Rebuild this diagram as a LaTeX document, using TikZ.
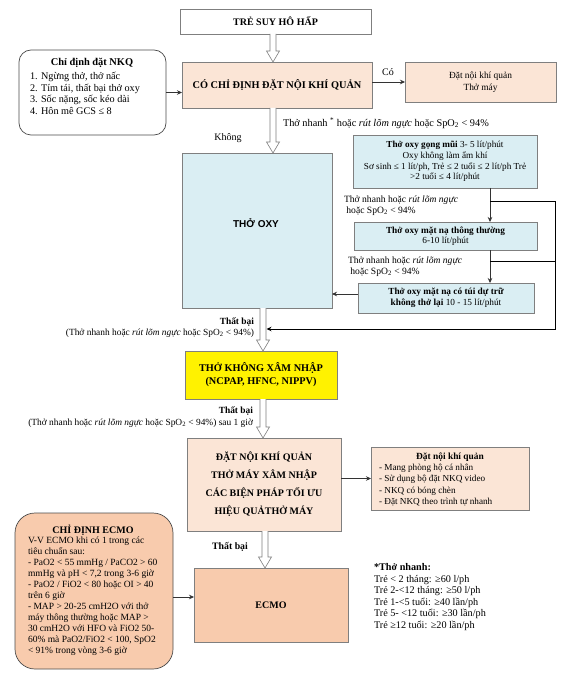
\documentclass[tikz,border=0pt]{standalone}
\usepackage{fontspec}
\setmainfont{Liberation Serif}
\newfontfamily\arialfont{Liberation Sans}
\usetikzlibrary{arrows.meta,calc}
\definecolor{peach}{HTML}{FBE5D6}
\definecolor{peachdark}{HTML}{F8CBAD}
\definecolor{lblue}{HTML}{DAEEF3}
\definecolor{bordergray}{HTML}{7F7F7F}
\newcommand\blockarrow[2]{\draw[blockarr] let \p1=#1, \p2=#2 in (\x1-3pt,\y1) -- (\x1-3pt,\y2+11pt) -- (\x1-6.5pt,\y2+11pt) -- (\x1,\y2) -- (\x1+6.5pt,\y2+11pt) -- (\x1+3pt,\y2+11pt) -- (\x1+3pt,\y1);}
\begin{document}
\begin{tikzpicture}[x=1pt,y=-1pt,
  bx/.style 2 args={draw=bordergray, line width=0.7pt, minimum width=#1, minimum height=#2, inner sep=0pt, outer sep=0pt, align=center},
  txt/.style={inner sep=0pt, outer sep=0pt, font=\fontsize{9.4}{11.5}\selectfont},
  arr/.style={draw=black!80, line width=0.6pt, -{Stealth[length=5pt,width=4.5pt]}},
  branch/.style={draw=black, line width=0.9pt},
  blockarr/.style={draw=bordergray, fill=white, line width=0.6pt, line join=miter},
]
\useasboundingbox (0,0) rectangle (573,676);
\fill[white] (0,0) rectangle (573,676);

% boxes
\node[bx={191pt}{25pt}, font=\bfseries\fontsize{10}{12}\selectfont] (tre) at (275.5,21.5) {TRẺ SUY HÔ HẤP};
\node[bx={190pt}{46pt}, fill=peach, font=\bfseries\fontsize{10.3}{12}\selectfont] (cochi) at (277,85) {CÓ CHỈ ĐỊNH ĐẶT NỘI KHÍ QUẢN};
\node[bx={147pt}{85pt}, rounded corners=12pt, draw=black!70] (nkq) at (92.5,92.5) {};
\node[txt, font=\bfseries\fontsize{10.4}{12}\selectfont] (nkqt) at (92,63) {Chỉ định đặt NKQ};
\node[txt, anchor=west, align=left, font=\fontsize{10.2}{11.7}\selectfont] (nkql) at (30,93.5) {1. Ngừng thở, thở nấc\\2. Tím tái, thất bại thở oxy\\3. Sốc nặng, sốc kéo dài\\4. Hôn mê GCS ≤ 8};
\node[bx={151pt}{40pt}, fill=peach, font=\fontsize{9.4}{12}\selectfont] (datnoi1) at (480.5,82) {Đặt nội khí quản\\Thở máy};

\node[bx={150pt}{155pt}, fill=lblue] (oxy) at (257,230.5) {};
\node[inner sep=0pt, font=\arialfont\bfseries\fontsize{10}{12}\selectfont] (oxyt) at (256,223) {THỞ OXY};

\node[bx={184pt}{53pt}, fill=lblue, font=\fontsize{9.2}{10.7}\selectfont] (gong) at (445,161.5) {\textbf{Thở oxy gọng mũi} 3- 5 lít/phút\\Oxy không làm ẩm khí\\Sơ sinh ≤ 1 lít/ph, Trẻ ≤ 2 tuổi ≤ 2 lít/ph Trẻ\\>2 tuổi ≤ 4 lít/phút};
\node[bx={183pt}{28pt}, fill=lblue, font=\fontsize{9.3}{10.5}\selectfont] (matna) at (445.5,236) {\textbf{Thở oxy mặt nạ thông thường}\\6-10 lít/phút};
\node[bx={176pt}{30pt}, fill=lblue, font=\fontsize{9.3}{11}\selectfont] (tui) at (446,298) {\textbf{Thở oxy mặt nạ có túi dự trữ}\\\textbf{không thở lại} 10 - 15 lít/phút};

\node[bx={152pt}{48pt}, fill=yellow, font=\bfseries\fontsize{10.3}{13}\selectfont] (khong) at (261,375) {THỞ KHÔNG XÂM NHẬP\\(NCPAP, HFNC, NIPPV)};
\node[bx={154pt}{93pt}, fill=peach, font=\bfseries\fontsize{10}{18}\selectfont] (dat2) at (264,484.5) {ĐẶT NỘI KHÍ QUẢN\\THỞ MÁY XÂM NHẬP\\CÁC BIỆN PHÁP TỐI ƯU\\HIỆU QUẢTHỞ MÁY};
\node[bx={158pt}{63pt}, fill=peach] (datnoi2) at (450,478.5) {};
\node[txt, font=\bfseries\fontsize{9.4}{11}\selectfont] (datnoi2t) at (450,457) {Đặt nội khí quản};
\node[txt, anchor=west, align=left, font=\fontsize{9.2}{11.2}\selectfont] (datnoi2l) at (379,485) {- Mang phòng hộ cá nhân\\- Sử dụng bộ đặt NKQ video\\- NKQ có bóng chèn\\- Đặt NKQ theo trình tự nhanh};

\node[bx={154pt}{74pt}, fill=peachdark, font=\bfseries\fontsize{10}{12}\selectfont] (ecmo) at (271,605) {ECMO};
\node[bx={158pt}{156pt}, fill=peachdark, rounded corners=20pt, draw=black!70] (ecmochi) at (94,591) {};
\node[txt, font=\bfseries\fontsize{10}{12}\selectfont] (ecmot) at (93,530) {CHỈ ĐỊNH ECMO};
\node[txt, anchor=west, align=left, font=\fontsize{9.5}{11}\selectfont] (ecmol) at (28,596) {V-V ECMO khi có 1 trong các\\tiêu chuẩn sau:\\- PaO2 < 55 mmHg / PaCO2 > 60\\mmHg và pH < 7,2 trong 3-6 giờ\\- PaO2 / FiO2 < 80 hoặc OI > 40\\trên 6 giờ\\- MAP > 20-25 cmH2O với thở\\máy thông thường hoặc MAP >\\30 cmH2O với HFO và FiO2 50-\\60\% mà PaO2/FiO2 < 100, SpO2\\< 91\% trong vòng 3-6 giờ};

\node[txt, anchor=west, align=left, font=\fontsize{10.2}{11.6}\selectfont] (thonhanh) at (374,597) {\textbf{*Thở nhanh:}\\Trẻ < 2 tháng: ≥60 l/ph\\Trẻ 2-<12 tháng: ≥50 l/ph\\Trẻ 1-<5 tuổi: ≥40 lần/ph\\Trẻ 5- <12 tuổi: ≥30 lần/ph\\Trẻ ≥12 tuổi: ≥20 lần/ph};

% labels
\node[txt, font=\fontsize{10}{12}\selectfont] (co) at (388,72) {Có};
\node[txt, anchor=west, font=\fontsize{10.3}{12}\selectfont] (lblA) at (283,123) {Thở nhanh \textsuperscript{*} hoặc \textit{rút lõm ngực} hoặc SpO\textsubscript{2} < 94\%};
\node[txt, font=\fontsize{10}{12}\selectfont] (khonglbl) at (228,138) {Không};
\node[txt, anchor=west, align=left, font=\fontsize{9.6}{10.5}\selectfont] (lblB) at (344,205.5) {Thở nhanh hoặc \textit{rút lõm ngực}\\\ hoặc SpO\textsubscript{2} < 94\%};
\node[txt, anchor=west, align=left, font=\fontsize{9.6}{10.5}\selectfont] (lblC) at (348,266.5) {Thở nhanh hoặc \textit{rút lõm ngực}\\\ hoặc SpO\textsubscript{2} < 94\%};
\node[txt, anchor=east, align=right] (fail1) at (254,327.5) {\textbf{Thất bại}\\(Thở nhanh hoặc \textit{rút lõm ngực} hoặc SpO\textsubscript{2} < 94\%)};
\node[txt, anchor=east, align=right] (fail2) at (253,417) {\textbf{Thất bại}\\(Thở nhanh hoặc \textit{rút lõm ngực} hoặc SpO\textsubscript{2} < 94\%) sau 1 giờ};
\node[txt, font=\bfseries\fontsize{9.8}{11}\selectfont] (fail3) at (230,547) {Thất bại};

% hollow block arrows
\blockarrow{([xshift=-2.5pt]tre.south)}{([xshift=-2.5pt]tre.south |- cochi.north)}
\blockarrow{([xshift=-4pt]cochi.south)}{([xshift=-4pt]cochi.south |- oxy.north)}
\coordinate (shaft) at ([xshift=6pt]oxy.south);
\blockarrow{(shaft)}{(shaft |- khong.north)}
\blockarrow{([xshift=2pt]khong.south)}{([xshift=2pt]khong.south |- dat2.north)}
\blockarrow{([xshift=1pt]dat2.south)}{([xshift=1pt]dat2.south |- ecmo.north)}

% thin arrows
\draw[arr] (nkq.east) -- (nkq.east -| cochi.west);
\draw[arr] (datnoi1.west -| cochi.east) -- (datnoi1.west);
\coordinate (colx) at (490,0);
\coordinate (j1) at (490,201);
\coordinate (j2) at (490,261);
\coordinate (rc) at (555,0);
\coordinate (bot) at (266.5,329);
\draw[arr] (gong.south -| colx) -- (matna.north -| colx);
\draw[arr] (matna.south -| colx) -- (tui.north -| colx);
\draw[branch] (j2) -- (j2 -| rc);
\draw[branch, -{Stealth[length=5pt,width=4.5pt]}] (j1) -| (rc |- bot) -- (bot);
\draw[arr] ([yshift=4pt]tui.west) -- ([yshift=4pt]tui.west -| oxy.east);
\draw[arr] (datnoi2.west -| dat2.east) -- (datnoi2.west);
\draw[arr] ([yshift=-6pt]ecmochi.east) -- ([yshift=-6pt]ecmochi.east -| ecmo.west);
\end{tikzpicture}
\end{document}
